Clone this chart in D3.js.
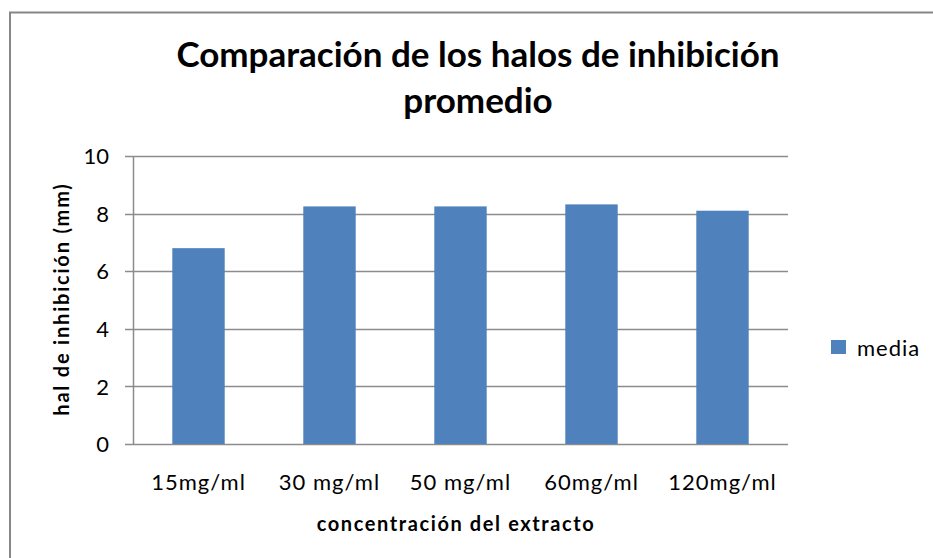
<!DOCTYPE html>
<html>
<head>
<meta charset="utf-8">
<script src="https://cdn.jsdelivr.net/npm/d3@7"></script>
<style>
  html, body { margin: 0; background: #fff; overflow: hidden; }
  svg { display: block; }
  text { font-family: Lato, "Open Sans", sans-serif; fill: #000; }
</style>
</head>
<body>
<div id="chart"></div>
<script>
// values
let categories = ["15mg/ml", "30 mg/ml", "50 mg/ml", "60mg/ml", "120mg/ml"];
let media = [6.8, 8.25, 8.25, 8.32, 8.1];
let yTicks = [0, 2, 4, 6, 8, 10];
let seriesName = "media";

let width = 933;
let height = 558;
let margins = {top: 156, right: 145, bot: 114, left: 133};
let chartWidth = width - margins.left - margins.right;
let chartHeight = height - margins.top - margins.bot;

let svg = d3.select("#chart")
    .append("svg")
    .attr("width", width)
    .attr("height", height);

// outer chart border: only top and left edges are inside the picture
svg.append("path")
    .attr("d", "M10,560 V12.5 H940")
    .attr("fill", "none")
    .attr("stroke", "#868686")
    .attr("stroke-width", 2);

let g = svg.append("g")
    .attr("transform", "translate(" + margins.left + "," + margins.top + ")");

let x = d3.scaleBand()
    .domain(categories)
    .range([0, chartWidth])
    .paddingInner(0.6)
    .paddingOuter(0.3);

let y = d3.scaleLinear()
    .domain([0, 10])
    .range([chartHeight, 0]);

// gridlines
g.append("g")
    .selectAll("line")
    .data(yTicks)
    .join("line")
    .attr("x1", -8)
    .attr("x2", chartWidth)
    .attr("y1", d => Math.round(y(d)) + 0.5)
    .attr("y2", d => Math.round(y(d)) + 0.5)
    .attr("stroke", "#8c8c8c")
    .attr("stroke-width", 1.5);

// y axis labels
let yAxis = g.append("g")
    .call(d3.axisLeft(y).tickValues(yTicks).tickSize(0).tickPadding(24));
yAxis.select(".domain").remove();
yAxis.selectAll("text")
    .style("font-size", "22px")
    .attr("dy", "0.35em");

// bars
g.selectAll(".bar")
    .data(media)
    .join("rect")
    .attr("class", "bar")
    .attr("x", (d, i) => x(categories[i]))
    .attr("y", d => y(d))
    .attr("width", x.bandwidth())
    .attr("height", d => chartHeight - y(d))
    .attr("fill", "#4f81bd");

// vertical axis line
g.append("line")
    .attr("x1", 0.5).attr("x2", 0.5)
    .attr("y1", 0).attr("y2", chartHeight + 1)
    .attr("stroke", "#8c8c8c")
    .attr("stroke-width", 1.5);

// x axis labels
let xAxis = g.append("g")
    .attr("transform", "translate(0," + chartHeight + ")")
    .call(d3.axisBottom(x).tickSize(0).tickPadding(30));
xAxis.select(".domain").remove();
xAxis.selectAll("text")
    .style("font-size", "22px")
    .style("letter-spacing", "1px");

// titles
let title = svg.append("text")
    .attr("x", 478)
    .attr("y", 67)
    .attr("text-anchor", "middle")
    .style("font-size", "35px")
    .style("font-weight", "bold");
title.append("tspan").attr("x", 478).text("Comparación de los halos de inhibición");
title.append("tspan").attr("x", 478).attr("dy", 46).text("promedio");

svg.append("text")
    .attr("x", 456)
    .attr("y", 531)
    .attr("text-anchor", "middle")
    .style("font-size", "20px")
    .style("font-weight", "bold")
    .style("letter-spacing", "1.6px")
    .text("concentración del extracto");

svg.append("text")
    .attr("transform", "translate(69,299) rotate(-90)")
    .attr("text-anchor", "middle")
    .style("font-size", "20px")
    .style("font-weight", "bold")
    .style("letter-spacing", "1.8px")
    .text("hal de inhibición (mm)");

// legend
let legend = svg.append("g")
    .attr("transform", "translate(831,340)");
legend.append("rect")
    .attr("width", 15)
    .attr("height", 14)
    .attr("fill", "#4f81bd");
legend.append("text")
    .attr("x", 26)
    .attr("y", 16)
    .style("font-size", "22px")
    .style("letter-spacing", "1px")
    .text(seriesName);
</script>
</body>
</html>
